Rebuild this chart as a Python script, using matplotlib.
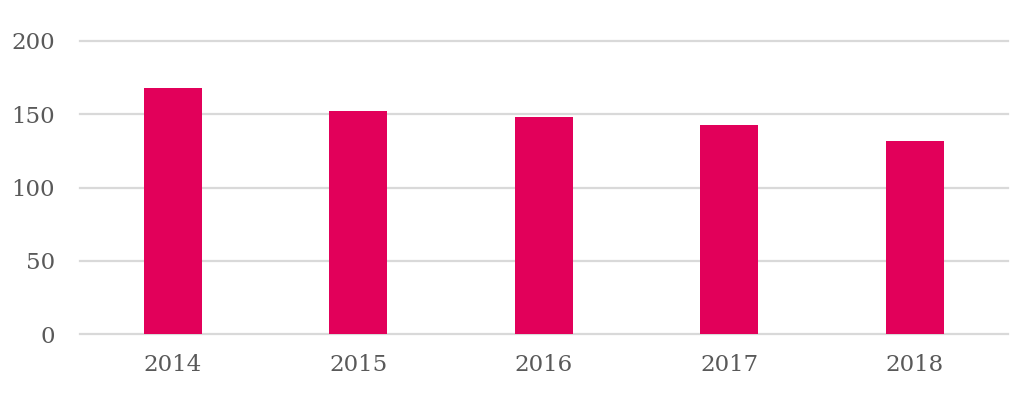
import matplotlib.pyplot as plt

# Chart data
years = ['2014', '2015', '2016', '2017', '2018']
values = [168, 152, 148, 143, 132]
yticks = [0, 50, 100, 150, 200]

bar_color = '#E2005A'
grid_color = '#D9D9D9'
text_color = '#595959'

plt.rcParams['font.family'] = ['DejaVu Serif']

fig = plt.figure(figsize=(10.24, 4.12), dpi=100)
ax = fig.add_axes([0.078, 0.189, 0.906, 0.7115])

ax.bar(range(len(years)), values, width=0.3125, color=bar_color, zorder=3)

ax.set_xlim(-0.5, len(years) - 0.5)
ax.set_ylim(0, 200)
ax.set_yticks(yticks)
ax.set_xticks(range(len(years)))
ax.set_xticklabels(years)

# Gridlines only, no spines
for s in ax.spines.values():
    s.set_visible(False)
ax.yaxis.grid(True, color=grid_color, linewidth=1.6, zorder=0)
for gl in ax.get_ygridlines():
    gl.set_clip_on(False)
ax.set_axisbelow(True)
ax.tick_params(axis='both', length=0, labelsize=16.5, colors=text_color)
ax.tick_params(axis='y', pad=18)
ax.tick_params(axis='x', pad=14)

fig.savefig('out.png', dpi=100, facecolor='white')
plt.close()
